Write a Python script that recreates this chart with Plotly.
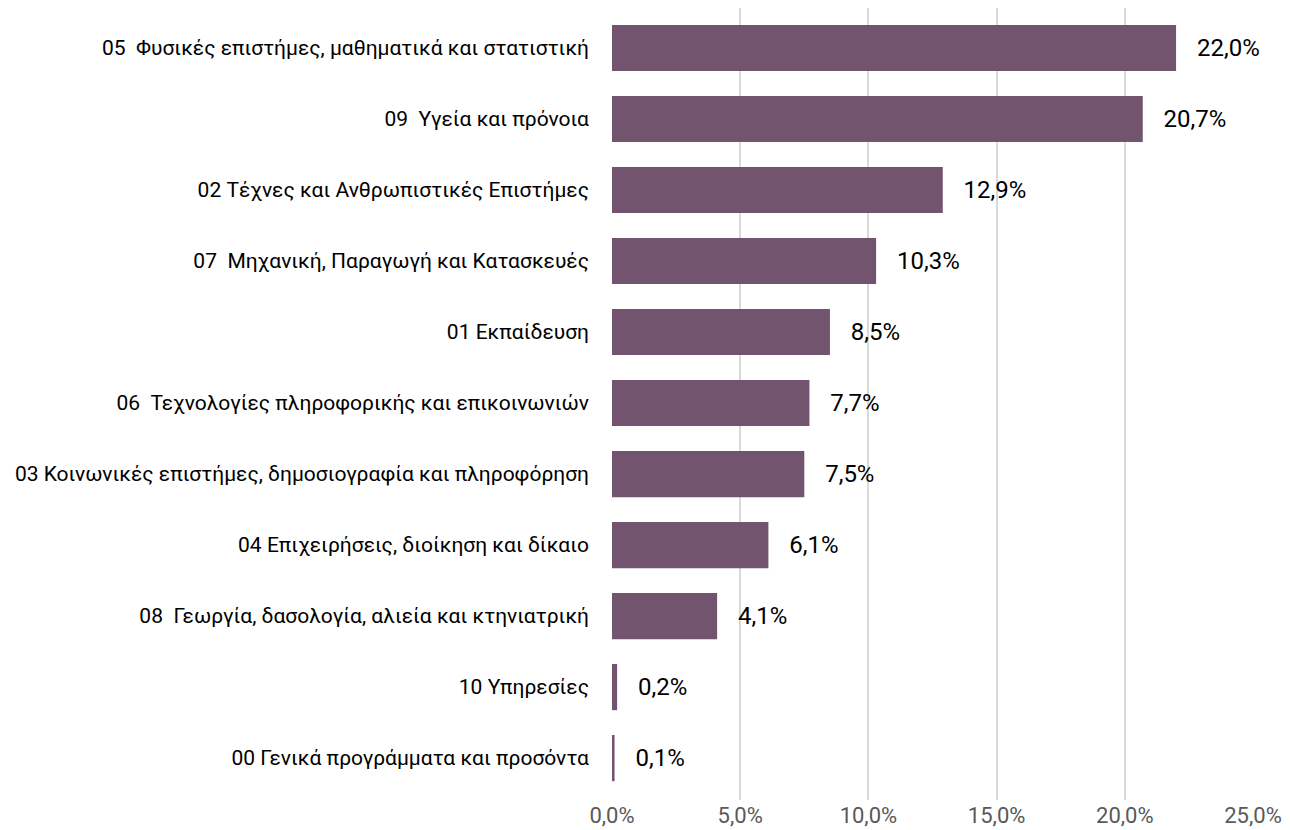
import plotly.graph_objects as go

categories = [
    "05  Φυσικές επιστήμες, μαθηματικά και στατιστική",
    "09  Υγεία και πρόνοια",
    "02 Τέχνες και Ανθρωπιστικές Επιστήμες",
    "07  Μηχανική, Παραγωγή και Κατασκευές",
    "01 Εκπαίδευση",
    "06  Τεχνολογίες πληροφορικής και επικοινωνιών",
    "03 Κοινωνικές επιστήμες, δημοσιογραφία και πληροφόρηση",
    "04 Επιχειρήσεις, διοίκηση και δίκαιο",
    "08  Γεωργία, δασολογία, αλιεία και κτηνιατρική",
    "10 Υπηρεσίες",
    "00 Γενικά προγράμματα και προσόντα",
]
values = [22.0, 20.7, 12.9, 10.3, 8.5, 7.7, 7.5, 6.1, 4.1, 0.2, 0.1]
tick_vals = [0, 5, 10, 15, 20, 25]

labels = ["\u00a0\u00a0\u00a0" + f"{v:.1f}%".replace(".", ",") for v in values]
tick_text = [f"{t:.1f}%".replace(".", ",") for t in tick_vals]

FONT = "Roboto, sans-serif"

fig = go.Figure(go.Bar(
    x=values, y=list(range(len(categories))), orientation="h",
    marker=dict(color="#72546E", line=dict(width=0)),
    width=0.65,
    text=labels, textposition="outside", cliponaxis=False,
    textfont=dict(family=FONT, size=24, color="#000000"),
))

fig.update_layout(
    width=1282, height=822,
    margin=dict(l=604, r=37, t=0, b=30),
    plot_bgcolor="white", paper_bgcolor="white",
    showlegend=False,
    font=dict(family=FONT),
    xaxis=dict(
        range=[0, 25], tickvals=tick_vals, ticktext=tick_text,
        showgrid=True, gridcolor="#D9D9D9", gridwidth=1.5,
        zeroline=False, showline=False,
        tickfont=dict(family=FONT, size=22, color="#595959"),
        ticks="",
    ),
    yaxis=dict(
        range=[10.59, -0.563],
        tickvals=list(range(len(categories))), ticktext=categories,
        showgrid=False, zeroline=False, showline=False,
        tickfont=dict(family=FONT, size=21, color="#000000"),
        ticklabelstandoff=22,
    ),
)

fig.write_html("out.html")
